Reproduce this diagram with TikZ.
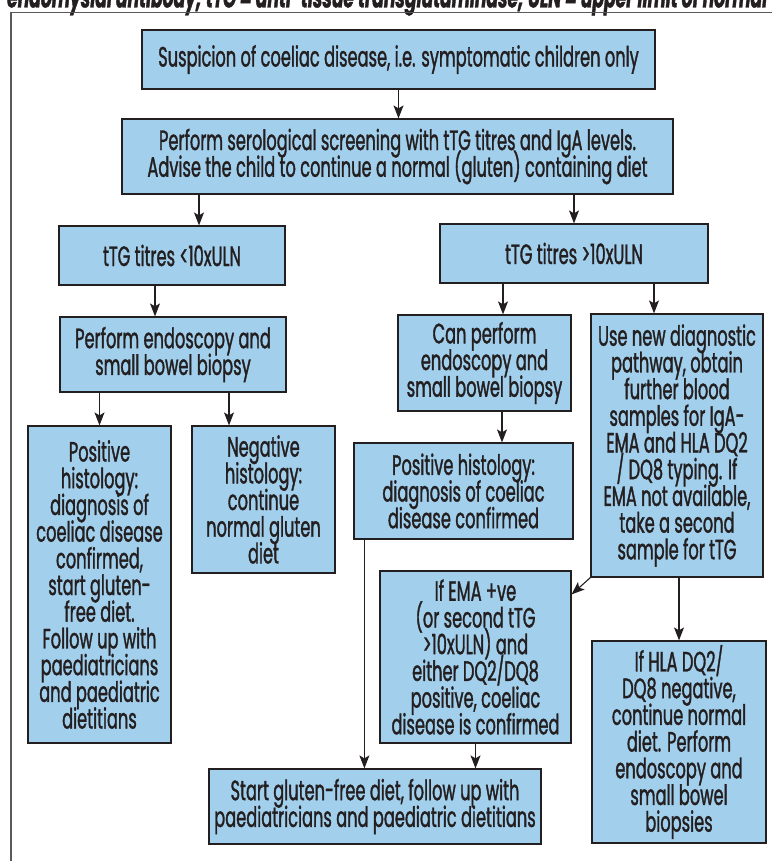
\documentclass[tikz,border=0pt]{standalone}
\usepackage{fontspec}
\setmainfont{Poppins}[FakeStretch=0.58,FakeBold=1.2]
\usetikzlibrary{arrows.meta}
\definecolor{boxblue}{HTML}{A2CFEC}
\definecolor{ink}{HTML}{231F20}
\definecolor{framegrey}{HTML}{5A5A5A}
\newcommand\boxfont{\fontsize{28}{26.7}\selectfont\setlength{\lineskiplimit}{-30pt}}
\begin{document}
\begin{tikzpicture}[x=1pt,y=-1pt,
    box/.style={draw=ink,fill=boxblue,line width=1.2pt,inner sep=0pt,align=center,text=ink,
      font=\boxfont},
    arr/.style={draw=ink,line width=1.1pt,-{Stealth[length=13pt,width=10pt,inset=3pt]}}]
  \useasboundingbox (0,0) rectangle (772,861);
  % key line cut off above the frame
  \begin{scope}
    \clip (0,0) rectangle (772,861);
    \node[anchor=base west,inner sep=0pt,text=ink,font=\fontsize{29.5}{31}\selectfont\bfseries\itshape] (key) at (7,7.5)
      {endomysial antibody; tTG = anti-tissue transglutaminase; ULN = upper limit of normal};
  \end{scope}
  \draw[framegrey,line width=1.5pt] (11,861) -- (11,12.5) -- (772,12.5);
  % boxes
  \node[box,minimum width=513pt,minimum height=59pt] (suspect) at (398.5,59.5)
    {Suspicion of coeliac disease, i.e. symptomatic children only};
  \node[box,minimum width=551pt,minimum height=75pt] (screen) at (397.5,156.5)
    {Perform serological screening with tTG titres and IgA levels.\\Advise the child to continue a normal (gluten) containing diet};
  \node[box,minimum width=226pt,minimum height=59pt] (low) at (172,255.5)
    {tTG titres <10xULN};
  \node[box,minimum width=268pt,minimum height=59pt] (high) at (574,253.5)
    {tTG titres >10xULN};
  \node[box,minimum width=226pt,minimum height=75pt] (endo) at (173,354.5)
    {Perform endoscopy and\\small bowel biopsy};
  \node[box,minimum width=173pt,minimum height=96pt] (can) at (484.5,363)
    {Can perform\\endoscopy and\\small bowel biopsy};
  \node[box,minimum width=172pt,minimum height=263pt] (newpath) at (677,445.5)
    {Use new diagnostic\\pathway, obtain\\further blood\\samples for IgA-\\EMA and HLA DQ2\\/ DQ8 typing. If\\EMA not available,\\take a second\\sample for tTG};
  \node[box,minimum width=143pt,minimum height=317pt] (pos) at (99.5,584.5)
    {Positive\\histology:\\diagnosis of\\coeliac disease\\confirmed,\\start gluten-\\free diet.\\Follow up with\\paediatricians\\and paediatric\\dietitians};
  \node[box,minimum width=143pt,minimum height=147pt] (neg) at (263.5,499.5)
    {Negative\\histology:\\continue\\normal gluten\\diet};
  \node[box,minimum width=219pt,minimum height=96pt] (confirmed) at (463.5,491)
    {Positive histology:\\diagnosis of coeliac\\disease confirmed};
  \node[box,minimum width=191pt,minimum height=172pt] (ema) at (475.5,657)
    {If EMA +ve\\(or second tTG\\>10xULN) and\\either DQ2/DQ8\\positive, coeliac\\disease is confirmed};
  \node[box,minimum width=174pt,minimum height=202pt] (hla) at (679,742)
    {If HLA DQ2/\\DQ8 negative,\\continue normal\\diet. Perform\\endoscopy and\\small bowel\\biopsies};
  \node[box,minimum width=332pt,minimum height=75pt] (start) at (375,806.5)
    {Start gluten-free diet, follow up with\\paediatricians and paediatric dietitians};
  % arrows
  \draw[arr] (suspect.south) -- (suspect.south |- screen.north);
  \draw[arr] ([xshift=27pt]low.north |- screen.south) -- ([xshift=27pt]low.north);
  \draw[arr] (high.north |- screen.south) -- (high.north);
  \draw[arr] ([xshift=-17pt]low.south) -- ([xshift=-17pt]low.south |- endo.north);
  \draw[arr] ([xshift=18.5pt]can.north |- high.south) -- ([xshift=18.5pt]can.north);
  \draw[arr] ([xshift=-23pt]newpath.north |- high.south) -- ([xshift=-23pt]newpath.north);
  \draw[arr] (pos.north |- endo.south) -- (pos.north);
  \draw[arr] ([xshift=-34.5pt]neg.north |- endo.south) -- ([xshift=-34.5pt]neg.north);
  \draw[arr] ([xshift=17.5pt]can.south) -- ([xshift=17.5pt]can.south |- confirmed.north);
  \draw[arr] (newpath.south west) -- ([yshift=-24pt]ema.north east);
  \draw[arr] (hla.north |- newpath.south) -- (hla.north);
  \draw[arr] ([xshift=11pt]confirmed.south west) -- ([xshift=11pt]confirmed.south west |- start.north);
  \draw[arr] (ema.south) -- (ema.south |- start.north);
\end{tikzpicture}
\end{document}
